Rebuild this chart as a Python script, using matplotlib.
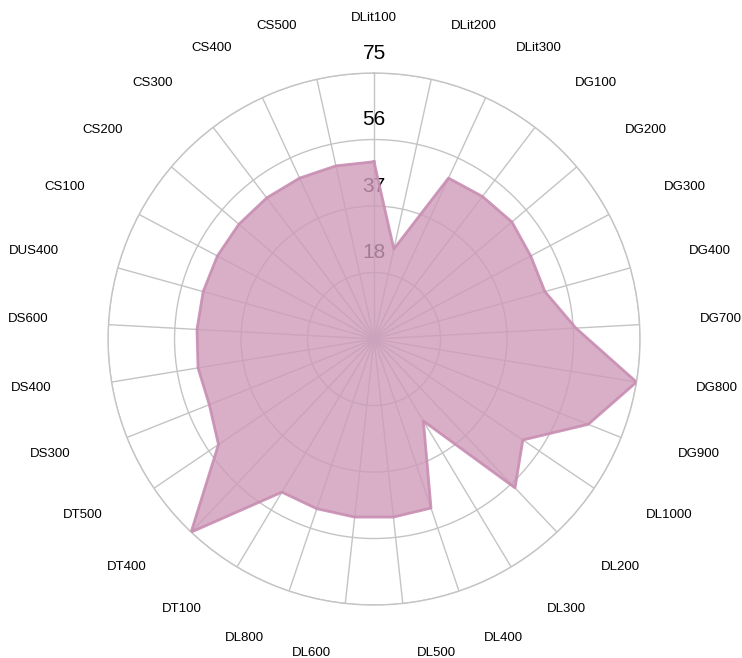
import numpy as np
import matplotlib.pyplot as plt
from matplotlib.transforms import offset_copy

plt.rcParams['font.family'] = ['Liberation Sans', 'DejaVu Sans']

# categories, clockwise from the top
categories = ['DLit100', 'DLit200', 'DLit300', 'DG100', 'DG200', 'DG300', 'DG400',
              'DG700', 'DG800', 'DG900', 'DL1000', 'DL200', 'DL300', 'DL400',
              'DL500', 'DL600', 'DL800', 'DT100', 'DT400', 'DT500', 'DS300',
              'DS400', 'DS600', 'DUS400', 'CS100', 'CS200', 'CS300', 'CS400', 'CS500']
values = [50, 26, 50, 50.5, 51, 50, 50, 57, 75, 65, 50.7, 57.8, 27, 50.3,
          50.5, 50.5, 50.5, 50.4, 75, 53, 50, 50.3, 50, 50, 50, 50, 50, 50, 50]
r_ticks = [18.75, 37.5, 56.25, 75]
r_tick_labels = ['18', '37', '56', '75']
r_max = 75


def draw_radar():
    n = len(categories)
    angles = np.linspace(0, 2 * np.pi, n, endpoint=False).tolist()
    closed_angles = angles + angles[:1]
    closed_values = values + values[:1]

    fig = plt.figure(figsize=(7.42, 6.58), dpi=100)
    ax = fig.add_axes([0.1456, 0.0805, 0.717, 0.8085], polar=True)
    ax.set_theta_offset(np.pi / 2)
    ax.set_theta_direction(-1)
    ax.set_ylim(0, r_max)
    ax.set_axisbelow(True)

    # grid: spokes and rings
    ax.set_xticks(angles)
    ax.set_xticklabels([])
    ax.set_yticks(r_ticks)
    ax.set_yticklabels([])
    ax.tick_params(length=0)
    ax.grid(color='#c4c4c4', linewidth=1)
    ax.spines['polar'].set_color('#c4c4c4')
    ax.spines['polar'].set_linewidth(1)

    # radial labels sit just above each ring, under the fill
    for r, lab in zip(r_ticks, r_tick_labels):
        ax.text(0, r + 5.6, lab, ha='center', va='center', fontsize=15,
                color='black', zorder=0.8)

    ax.fill(closed_angles, closed_values, color='#cf9bba', alpha=0.8,
            zorder=2, linewidth=0)
    ax.plot(closed_angles, closed_values, color='#c88db2', alpha=0.9,
            linewidth=2, zorder=3)

    # category labels outside the ring
    label_r = 89.7
    for ang, name in zip(angles, categories):
        s = np.sin(ang)
        if abs(s) < 1e-6:
            ha, dx = 'center', 0
        elif s > 0:
            ha, dx = 'left', 6
        else:
            ha, dx = 'right', -6
        tr = offset_copy(ax.transData, fig=fig, x=dx, y=2, units='points')
        ax.text(ang, label_r, name, ha=ha, va='center', fontsize=9.5,
                transform=tr, clip_on=False)

    fig.savefig('out.png', dpi=100)


if __name__ == '__main__':
    draw_radar()
